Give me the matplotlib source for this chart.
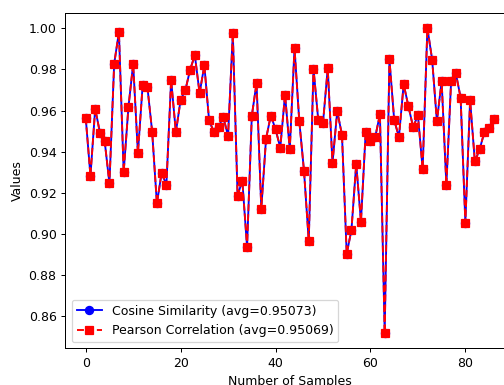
import matplotlib
matplotlib.use("Agg")
import matplotlib.pyplot as plt

# similarity scores per sample
cosine = [
    0.9566, 0.9283, 0.9610, 0.9492, 0.9451, 0.9246, 0.9827, 0.9982, 0.9301, 0.9616,
    0.9827, 0.9393, 0.9723, 0.9715, 0.9498, 0.9149, 0.9298, 0.9239, 0.9749, 0.9495,
    0.9652, 0.9699, 0.9799, 0.9869, 0.9684, 0.9820, 0.9552, 0.9497, 0.9522, 0.9568,
    0.9477, 0.9976, 0.9187, 0.9260, 0.8937, 0.9574, 0.9734, 0.9124, 0.9463, 0.9576,
    0.9510, 0.9419, 0.9678, 0.9411, 0.9904, 0.9550, 0.9307, 0.8967, 0.9804, 0.9555,
    0.9539, 0.9806, 0.9345, 0.9597, 0.9482, 0.8904, 0.9021, 0.9341, 0.9061, 0.9497,
    0.9454, 0.9471, 0.9582, 0.8519, 0.9849, 0.9555, 0.9471, 0.9728, 0.9621, 0.9519,
    0.9578, 0.9316, 1.0001, 0.9848, 0.9548, 0.9743, 0.9238, 0.9744, 0.9781, 0.9663,
    0.9056, 0.9650, 0.9353, 0.9411, 0.9495, 0.9516, 0.9558,
]
pearson = [
    0.9566, 0.9283, 0.9610, 0.9492, 0.9451, 0.9246, 0.9827, 0.9982, 0.9301, 0.9616,
    0.9827, 0.9393, 0.9723, 0.9715, 0.9498, 0.9149, 0.9298, 0.9239, 0.9749, 0.9495,
    0.9652, 0.9699, 0.9799, 0.9869, 0.9684, 0.9820, 0.9552, 0.9497, 0.9522, 0.9568,
    0.9477, 0.9976, 0.9187, 0.9260, 0.8937, 0.9574, 0.9734, 0.9124, 0.9463, 0.9576,
    0.9510, 0.9419, 0.9678, 0.9411, 0.9904, 0.9550, 0.9307, 0.8967, 0.9804, 0.9555,
    0.9539, 0.9806, 0.9345, 0.9597, 0.9482, 0.8904, 0.9021, 0.9341, 0.9061, 0.9497,
    0.9454, 0.9471, 0.9582, 0.8519, 0.9849, 0.9555, 0.9471, 0.9728, 0.9621, 0.9519,
    0.9578, 0.9316, 1.0001, 0.9848, 0.9548, 0.9743, 0.9238, 0.9744, 0.9781, 0.9663,
    0.9056, 0.9650, 0.9353, 0.9411, 0.9495, 0.9516, 0.9558,
]
cosine_label = "Cosine Similarity (avg=0.95073)"
pearson_label = "Pearson Correlation (avg=0.95069)"

samples = list(range(len(cosine)))

# reference looks like a default figure rendered at 90 dpi, then cropped
fig = plt.figure(figsize=(505 / 90, 385 / 90), dpi=90)
# axes runs past the right edge, as in the cropped reference
ax = fig.add_axes([0.1293, 0.0953, 0.889, 0.8714])

ax.plot(samples, cosine, "b-o", markersize=6.5, label=cosine_label)
ax.plot(samples, pearson, "r--s", markersize=6.5, label=pearson_label)

ax.set_xlabel("Number of Samples")
ax.set_ylabel("Values")
ax.legend(loc="lower left")

fig.savefig("out.png", dpi=90)
plt.close(fig)
